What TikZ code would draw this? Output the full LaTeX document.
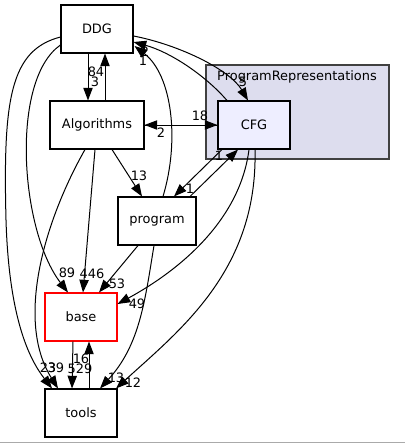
\documentclass[tikz,border=0pt]{standalone}
\usepackage{fontspec}
\setmainfont{DejaVu Sans}
\usetikzlibrary{arrows.meta,calc}

\definecolor{clusterfill}{RGB}{221,221,238}
\definecolor{cfgfill}{RGB}{238,238,255}
\definecolor{rulegray}{RGB}{170,170,170}

\begin{document}
\begin{tikzpicture}[x=0.75pt,y=-0.75pt,
    dirnode/.style={draw=black,line width=0.8pt,fill=white,minimum width=54pt,minimum height=36pt,inner sep=0pt,font=\fontsize{9.7}{11}\selectfont},
    dep/.style={line width=0.75pt,-{Triangle[length=9.5pt,width=7pt]}},
    lbl/.style={inner sep=0pt,font=\fontsize{9.7}{11}\selectfont}]

  \useasboundingbox (0,0) rectangle (405,443);

  % Draw the cluster box
  \node[draw=black!75,line width=0.8pt,fill=clusterfill,minimum width=137.25pt,minimum height=70.5pt,inner sep=0pt] (cluster) at (297.5,112) {};
  \node[lbl] (clusterlabel) at (297,77) {ProgramRepresentations};

  % Draw the directories
  \node[dirnode] (ddg) at (97,29) {DDG};
  \node[dirnode,minimum width=70.5pt] (alg) at (97,125) {Algorithms};
  \node[dirnode,fill=cfgfill] (cfg) at (254,125) {CFG};
  \node[dirnode,minimum width=58.5pt] (prog) at (157,221) {program};
  \node[dirnode,draw=red] (base) at (81,317) {base};
  \node[dirnode] (tools) at (81,413) {tools};

  % Draw the dependencies
  \draw[dep] ($(ddg.south)+(-9,0)$) -- ($(alg.north)+(-9,0)$);
  \draw[dep] ($(alg.north)+(8,0)$) -- ($(ddg.south)+(8,0)$);
  \draw[dep] ($(ddg.east)+(0,7)$) .. controls (180,45) and (230,70) .. ($(cfg.north)+(-6,0)$);
  \draw[dep] ($(cfg.north)+(-27,0)$) .. controls (205,75) and (170,52) .. ($(ddg.east)+(0,13)$);
  \draw[dep] ($(prog.north)+(6,0)$) .. controls (180,140) and (172,75) .. ($(ddg.east)+(1,17)$);
  \draw[dep] (alg.east) -- (cfg.west);
  \draw[dep] (cfg.west) -- (alg.east);
  \draw[dep] ($(alg.south)+(15,0)$) -- ($(prog.north)+(-15,0)$);
  \draw[dep] ($(prog.north)+(33,0)$) -- ($(cfg.south)+(-16,0)$);
  \draw[dep] ($(cfg.south)+(-32,0)$) -- ($(prog.north)+(17,0)$);
  \draw[dep] ($(cfg.south)+(-5,0)$) .. controls (240,220) and (180,270) .. ($(base.east)+(0,-13)$);
  \draw[dep] ($(cfg.south)+(1,0)$) .. controls (258,270) and (180,330) .. ($(tools.north)+(35,0)$);
  \draw[dep] ($(prog.south)+(-19,0)$) -- ($(base.north)+(18,0)$);
  \draw[dep] ($(prog.south)+(-3,0)$) .. controls (145,300) and (140,345) .. ($(tools.north)+(19,0)$);
  \draw[dep] ($(alg.south)+(-2,0)$) -- ($(base.north)+(2,0)$);
  \draw[dep] ($(ddg.west)+(0,16)$) .. controls (10,80) and (20,230) .. ($(base.north)+(-13,0)$);
  \draw[dep] ($(alg.south)+(-12,0)$) .. controls (45,220) and (15,320) .. ($(tools.north)+(-23,0)$);
  \draw[dep] ($(ddg.west)+(0,8)$) .. controls (10,50) and (3,100) .. (6,220) .. controls (9,320) and (30,360) .. ($(tools.north)+(-29,0)$);
  \draw[dep] ($(base.south)+(-8,0)$) -- ($(tools.north)+(-9,0)$);
  \draw[dep] ($(tools.north)+(8,0)$) -- ($(base.south)+(8,0)$);

  % Add labels for the dependency counts
  \node[lbl] (l84) at (96,72) {84};
  \node[lbl] (l3) at (95,82) {3};
  \node[lbl] (l5) at (243,82) {5};
  \node[lbl] (l2a) at (145,52) {2};
  \node[lbl] (l1a) at (143,61) {1};
  \node[lbl] (l18) at (200,116) {18};
  \node[lbl] (l2b) at (161,133) {2};
  \node[lbl] (l13a) at (139,176) {13};
  \node[lbl] (l1b) at (219,156) {1};
  \node[lbl] (l1c) at (190,189) {1};
  \node[lbl] (l49) at (137,304) {49};
  \node[lbl] (l12) at (133,383) {12};
  \node[lbl] (l53) at (117,284) {53};
  \node[lbl] (l13b) at (116,378) {13};
  \node[lbl] (l446) at (92,274) {446};
  \node[lbl] (l89) at (67,273) {89};
  \node[lbl] (l39) at (56,368) {39};
  \node[lbl] (l23) at (48,368) {23};
  \node[lbl] (l529) at (80,369) {529};
  \node[lbl] (l16) at (81,359) {16};

  % Draw the bottom rule
  \draw[line width=0.75pt,rulegray] (0,442) -- (405,442);

\end{tikzpicture}
\end{document}
